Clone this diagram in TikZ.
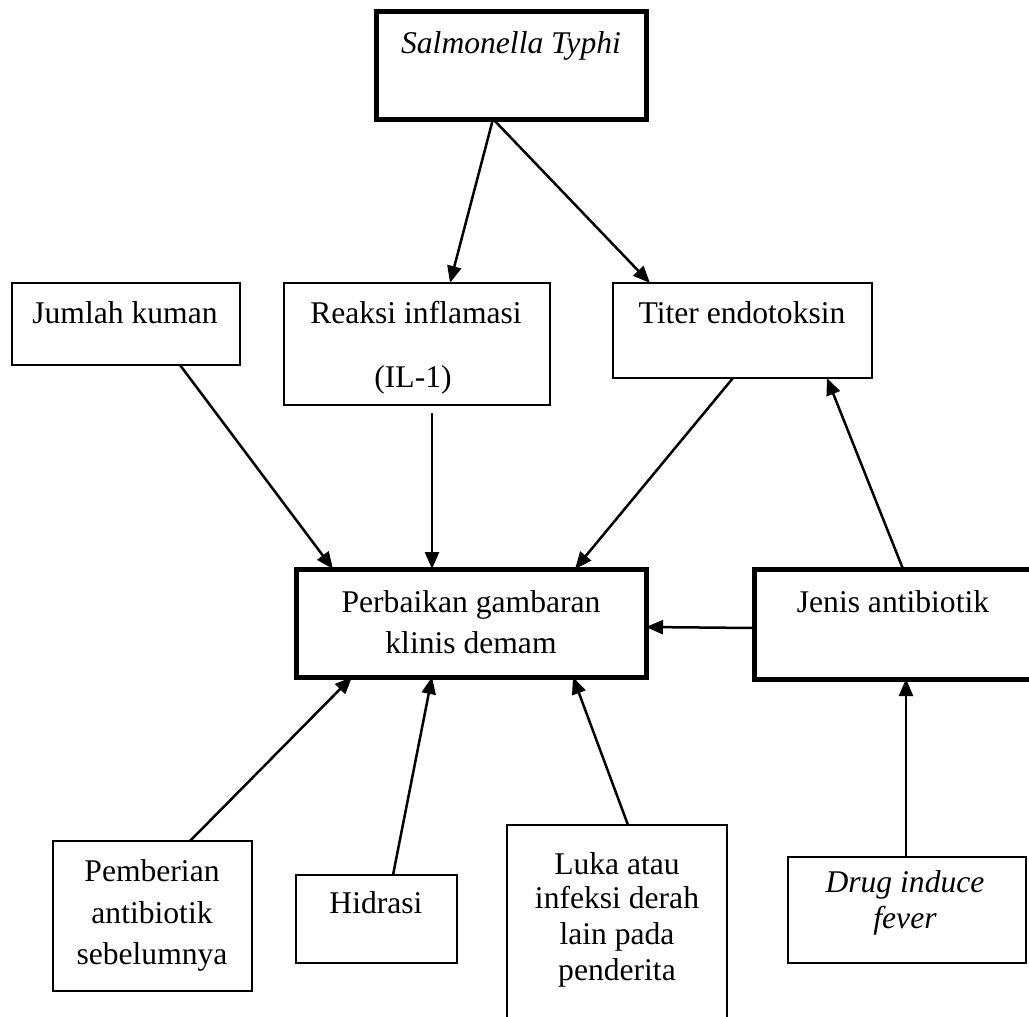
\documentclass[tikz,border=0pt]{standalone}
\usepackage{fontspec}
\setmainfont{Liberation Serif}
\usetikzlibrary{arrows.meta}
\begin{document}
\begin{tikzpicture}[x=1pt,y=-1pt,
  thinbox/.style={draw,line width=2.5pt,inner sep=0pt,outer sep=0pt},
  thickbox/.style={draw,line width=5pt,inner sep=0pt,outer sep=0pt},
  txt/.style={anchor=base,inner sep=0pt,font=\fontsize{31.6}{38}\selectfont},
  conn/.style={line width=2.5pt,-{Triangle[length=17pt,width=14pt]}}]
\useasboundingbox (0,0) rectangle (1029,1017);
\clip (0,0) rectangle (1029,1017);
% boxes
\node[thickbox,minimum width=270pt,minimum height=108pt] (sal) at (511,65) {};
\node[thinbox,minimum width=228pt,minimum height=82pt] (jum) at (126,324) {};
\node[thinbox,minimum width=266pt,minimum height=122pt] (rea) at (417,344) {};
\node[thinbox,minimum width=259pt,minimum height=95pt] (tit) at (742.5,330.5) {};
\node[thickbox,minimum width=350pt,minimum height=108pt] (per) at (471,623) {};
\node[thickbox,minimum width=280pt,minimum height=110pt] (jen) at (894,624) {};
\node[thinbox,minimum width=199pt,minimum height=150pt] (pem) at (152.5,916) {};
\node[thinbox,minimum width=161pt,minimum height=88pt] (hid) at (376.5,919) {};
\node[thinbox,minimum width=220pt,minimum height=205pt] (luk) at (617,927.5) {};
\node[thinbox,minimum width=238pt,minimum height=106pt] (dru) at (907,910) {};
% texts
\node[txt] (salT) at (511,53) {\itshape Salmonella Typhi};
\node[txt] (jumT) at (125,323) {Jumlah kuman};
\node[txt] (reaT1) at (416,323) {Reaksi inflamasi};
\node[txt] (reaT2) at (413,387) {(IL-1)};
\node[txt] (titT) at (742,323) {Titer endotoksin};
\node[txt] (perT1) at (471,612) {Perbaikan gambaran};
\node[txt] (perT2) at (471,653) {klinis demam};
\node[txt] (jenT) at (893,612) {Jenis antibiotik};
\node[txt] (pemT1) at (152,881) {Pemberian};
\node[txt] (pemT2) at (152,923) {antibiotik};
\node[txt] (pemT3) at (152,964) {sebelumnya};
\node[txt] (hidT) at (376,913) {Hidrasi};
\node[txt] (lukT1) at (617,874) {Luka atau};
\node[txt] (lukT2) at (617,908) {infeksi derah};
\node[txt] (lukT3) at (617,944) {lain pada};
\node[txt] (lukT4) at (617,980) {penderita};
\node[txt] (druT1) at (905,892) {\itshape Drug induce};
\node[txt] (druT2) at (905,928) {\itshape fever};
% connectors
\draw[conn] ([xshift=-18pt]sal.south) -- ([xshift=33pt]rea.north);
\draw[conn] ([xshift=-18pt]sal.south) -- ([xshift=-92.5pt]tit.north);
\draw[conn] ([xshift=54pt]jum.south) -- ([xshift=-138pt]per.north);
\draw[conn] ([xshift=15pt,yshift=-8pt]rea.south) -- ([xshift=-39pt]per.north);
\draw[conn] ([xshift=-9.5pt]tit.south) -- ([xshift=104pt]per.north);
\draw[conn] ([xshift=9pt]jen.north) -- ([xshift=84.5pt]tit.south);
\draw[conn] ([yshift=-4pt]jen.west) -- ([yshift=-4pt]per.east);
\draw[conn] ([xshift=37.5pt]pem.north) -- ([xshift=-119pt]per.south);
\draw[conn] ([xshift=16.5pt]hid.north) -- ([xshift=-39pt]per.south);
\draw[conn] ([xshift=11pt]luk.north) -- ([xshift=102pt]per.south);
\draw[conn] ([xshift=-1pt]dru.north) -- ([xshift=12pt]jen.south);
\end{tikzpicture}
\end{document}
